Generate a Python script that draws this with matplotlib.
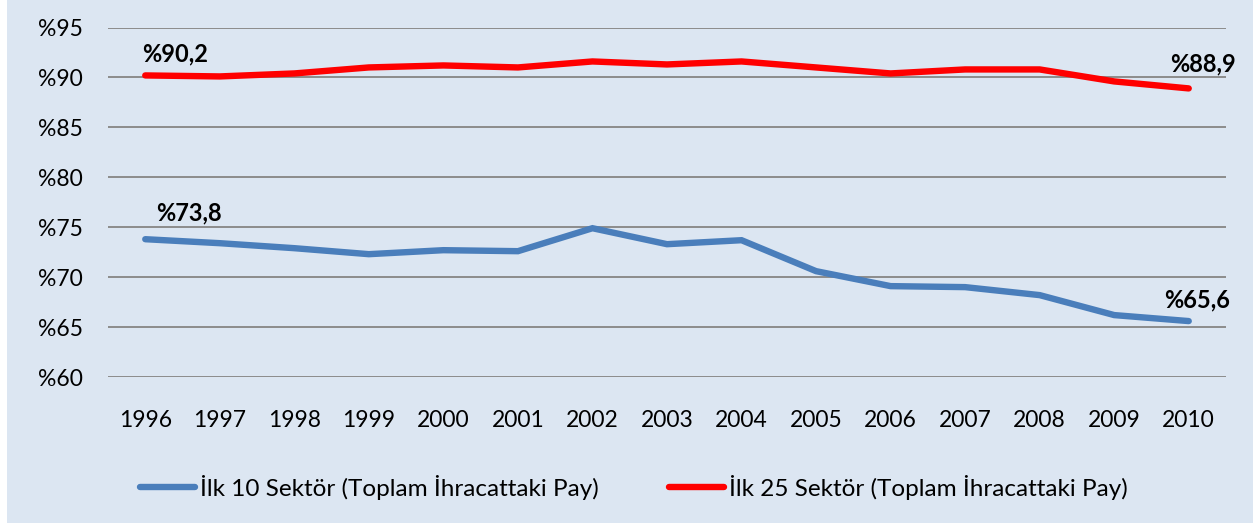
import matplotlib
matplotlib.use('Agg')
import matplotlib.pyplot as plt
from matplotlib.patches import Rectangle

plt.rcParams['font.family'] = ['Lato', 'DejaVu Sans']

# years and shares (%)
years = [1996, 1997, 1998, 1999, 2000, 2001, 2002, 2003, 2004, 2005, 2006, 2007, 2008, 2009, 2010]
top10 = [73.8, 73.4, 72.9, 72.3, 72.7, 72.6, 74.9, 73.3, 73.7, 70.6, 69.1, 69.0, 68.2, 66.2, 65.6]
top25 = [90.2, 90.1, 90.4, 91.0, 91.2, 91.0, 91.6, 91.3, 91.6, 91.0, 90.4, 90.8, 90.8, 89.6, 88.9]
yticks = [60, 65, 70, 75, 80, 85, 90, 95]
label10 = 'İlk 10 Sektör (Toplam İhracattaki Pay)'
label25 = 'İlk 25 Sektör (Toplam İhracattaki Pay)'

bg = '#DCE6F2'
fs = 16.5
fig = plt.figure(figsize=(12.53, 5.26), dpi=100, facecolor='white')
fig.patches.append(Rectangle((7 / 1253, 3 / 526), 1, 1, transform=fig.transFigure,
                             facecolor=bg, edgecolor='none', zorder=-10))

ax = fig.add_axes([108 / 1253, 1 - 377 / 526, (1226 - 108) / 1253, (377 - 27.5) / 526])
ax.set_facecolor('none')

x = list(range(len(years)))
ax.plot(x, top10, color='#4A7EBB', lw=4.6, solid_capstyle='round', solid_joinstyle='miter',
        label=label10, zorder=3)
ax.plot(x, top25, color='#FF0000', lw=4.6, solid_capstyle='round', solid_joinstyle='miter',
        label=label25, zorder=3)

ax.set_xlim(-0.5, len(years) - 0.5)
ax.set_ylim(60, 95)
ax.set_yticks(yticks)
ax.set_yticklabels(['%' + str(v) for v in yticks])
ax.set_xticks(x)
ax.set_xticklabels([str(y) for y in years])
ax.tick_params(axis='y', length=0, pad=18, labelsize=fs, colors='black')
ax.tick_params(axis='x', length=0, pad=24, labelsize=fs, colors='black')
ax.grid(axis='y', color='#8C8C8C', lw=1.4, zorder=1)
ax.set_axisbelow(True)
for s in ax.spines.values():
    s.set_visible(False)

def fmt(v):
    return '%' + str(v).replace('.', ',')

lab = dict(fontsize=fs + 0.5, fontweight='bold', textcoords='offset pixels', va='center', ha='center')
ax.annotate(fmt(top25[0]), (x[0], top25[0]), xytext=(30, 22), **lab)
ax.annotate(fmt(top10[0]), (x[0], top10[0]), xytext=(44, 26), **lab)
ax.annotate(fmt(top25[-1]), (x[-1], top25[-1]), xytext=(14, 24), **lab)
ax.annotate(fmt(top10[-1]), (x[-1], top10[-1]), xytext=(8, 21), **lab)

lfs = 17.5
fig.legend(loc='center', bbox_to_anchor=(0.506, 1 - 487 / 526), ncol=2, frameon=False,
           fontsize=lfs, handlelength=2.26, handletextpad=0.2, columnspacing=2.88,
           borderaxespad=0)

fig.savefig('out.png', dpi=100, facecolor=fig.get_facecolor())
